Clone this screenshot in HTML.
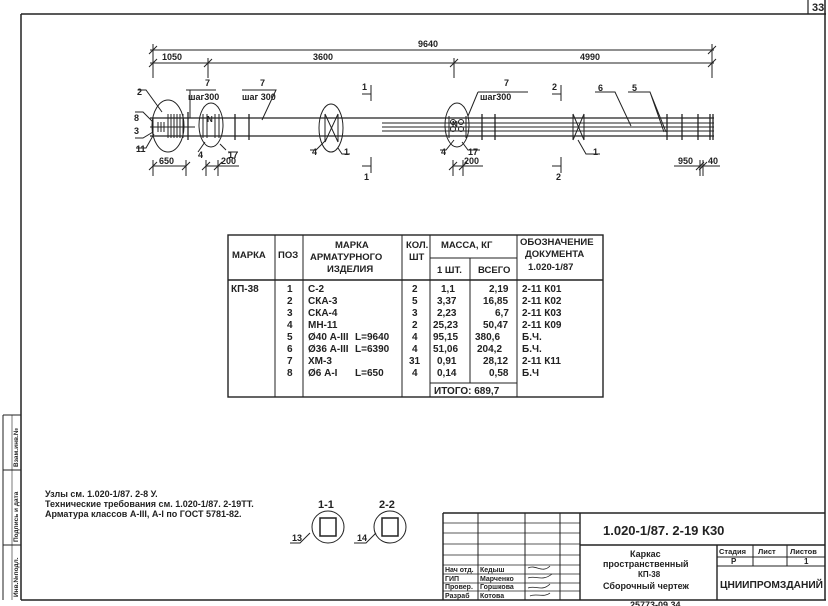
<!DOCTYPE html>
<html><head><meta charset="utf-8"><style>
html,body{margin:0;padding:0;background:#fff}
svg{display:block}
text{font-family:"Liberation Sans Narrow","Liberation Sans","DejaVu Sans Condensed",sans-serif;font-weight:bold;fill:#222}
</style></head><body>
<svg width="828" height="606" viewBox="0 0 828 606" xmlns="http://www.w3.org/2000/svg">
<rect width="828" height="606" fill="#fff"/>
<g stroke="#222" fill="none">
<line x1="21" y1="14" x2="826" y2="14" stroke-width="1.5"/>
<line x1="21" y1="14" x2="21" y2="600" stroke-width="1.5"/>
<line x1="825" y1="0" x2="825" y2="600" stroke-width="1.5"/>
<line x1="21" y1="600" x2="826" y2="600" stroke-width="1.5"/>
<line x1="808" y1="0" x2="808" y2="14" stroke-width="1.2"/>
<line x1="3" y1="415" x2="3" y2="600"/>
<line x1="3" y1="415" x2="21" y2="415"/>
<line x1="3" y1="470" x2="21" y2="470"/>
<line x1="3" y1="545" x2="21" y2="545"/>
<line x1="12" y1="415" x2="12" y2="600" stroke-width="0.6"/>

<line x1="150" y1="50" x2="714" y2="50"/>
<line x1="150" y1="63" x2="714" y2="63"/>
<line x1="153" y1="44" x2="153" y2="78"/>
<line x1="712" y1="44" x2="712" y2="78"/>
<line x1="208" y1="58" x2="208" y2="78"/>
<line x1="454" y1="58" x2="454" y2="78"/>
<path d="M149 54l8-8M149 67l8-8M708 54l8-8M708 67l8-8M204 67l8-8M450 67l8-8"/>

<line x1="150" y1="118" x2="714" y2="118" stroke-width="1.3"/>
<line x1="150" y1="136" x2="714" y2="136" stroke-width="1.3"/>
<line x1="382" y1="123" x2="714" y2="123"/>
<line x1="382" y1="127" x2="714" y2="127"/>
<line x1="382" y1="131" x2="714" y2="131"/>
<g stroke-width="1.3">
<line x1="188" y1="112" x2="188" y2="140"/>
<line x1="235" y1="114" x2="235" y2="140"/>
<line x1="249" y1="114" x2="249" y2="140"/>
<line x1="482" y1="114" x2="482" y2="140"/>
<line x1="495" y1="114" x2="495" y2="140"/>
<line x1="667" y1="114" x2="667" y2="140"/>
<line x1="682" y1="114" x2="682" y2="140"/>
<line x1="698" y1="114" x2="698" y2="140"/>
<line x1="710" y1="114" x2="710" y2="140"/>
<line x1="713" y1="114" x2="713" y2="140"/>
</g>
<line x1="153" y1="118" x2="153" y2="136"/>
<path d="M158 122v10M161 122v10M164 122v10"/>
<path d="M168 114v24M171 114v24M174 114v24M177 114v24M180 114v24M183 114v24"/>
<line x1="150" y1="127" x2="195" y2="127"/>
<ellipse cx="168" cy="126" rx="16" ry="26"/>
<ellipse cx="211" cy="125" rx="12" ry="22"/>
<ellipse cx="331" cy="128" rx="12" ry="24"/>
<ellipse cx="457" cy="125" rx="12" ry="22"/>
<path d="M203 114v24M207 114v24M215 114v24M219 114v24"/>
<path d="M325 114v28M338 114v28M325 114L338 142M338 114L325 142"/>
<path d="M449 116v22M466 116v22"/>
<circle cx="453" cy="122" r="2.5"/><circle cx="461" cy="122" r="2.5"/>
<circle cx="453" cy="129" r="2.5"/><circle cx="461" cy="129" r="2.5"/>
<path d="M573 114v26M584 114v26M573 114L584 140M584 114L573 140"/>
<path d="M138 90h8l16 22M135 112h8l10 10M135 138h8l10-6M136 148h10l8-14"/>
<path d="M186 90h30M190 90v28M242 90h34l-14 30"/>
<path d="M198 152l7-10M226 150l-6-6M228 152h10"/>
<path d="M310 150h6l10-10M338 148l4 6h8"/>
<path d="M440 150h6l8-10M462 142l6 8h12"/>
<path d="M478 92h50M478 92l-10 24"/>
<path d="M595 92h20l16 34M628 92h22l14 40M650 92l16 40"/>
<path d="M578 140l8 14h14"/>
<path d="M371 85v16M362 94h9M371 157v16M362 166h9M561 85v16M552 94h9M561 157v16M552 166h9"/>
<path d="M153 160v16M186 160v16M153 166h33M206 160v16M218 160v16M206 166h33M453 160v16M463 160v16M453 166h30M700 160v16M703 160v16M674 166h46"/>
<path d="M149 170l8-8M182 170l8-8M202 170l8-8M214 170l8-8M449 170l8-8M459 170l8-8M696 170l8-8M699 170l8-8"/>

<rect x="228" y="235" width="375" height="162" stroke-width="1.4"/>
<line x1="228" y1="280" x2="603" y2="280" stroke-width="1.4"/>
<line x1="275" y1="235" x2="275" y2="397"/>
<line x1="303" y1="235" x2="303" y2="397"/>
<line x1="402" y1="235" x2="402" y2="397"/>
<line x1="430" y1="235" x2="430" y2="397"/>
<line x1="470" y1="258" x2="470" y2="383"/>
<line x1="517" y1="235" x2="517" y2="397"/>
<line x1="430" y1="258" x2="517" y2="258"/>
<line x1="430" y1="383" x2="517" y2="383"/>

<circle cx="328" cy="527" r="16"/>
<rect x="320" y="518" width="16" height="18" stroke-width="1.5"/>
<circle cx="390" cy="527" r="16"/>
<rect x="382" y="518" width="16" height="18" stroke-width="1.5"/>
<path d="M290 543h10l10-10M354 543h12l10-10"/>

<line x1="443" y1="513" x2="825" y2="513" stroke-width="1.4"/>
<line x1="443" y1="513" x2="443" y2="600" stroke-width="1.4"/>
<line x1="580" y1="513" x2="580" y2="600" stroke-width="1.4"/>
<line x1="478" y1="513" x2="478" y2="600"/>
<line x1="525" y1="513" x2="525" y2="600"/>
<line x1="560" y1="513" x2="560" y2="600"/>
<g stroke-width="0.8">
<line x1="443" y1="523" x2="580" y2="523"/>
<line x1="443" y1="533" x2="580" y2="533"/>
<line x1="443" y1="544" x2="580" y2="544"/>
<line x1="443" y1="555" x2="580" y2="555"/>
<line x1="443" y1="565" x2="580" y2="565"/>
<line x1="443" y1="574" x2="580" y2="574"/>
<line x1="443" y1="583" x2="580" y2="583"/>
<line x1="443" y1="591" x2="580" y2="591"/>
</g>
<line x1="580" y1="545" x2="825" y2="545" stroke-width="1.4"/>
<line x1="717" y1="545" x2="717" y2="600" stroke-width="1.4"/>
<line x1="753" y1="545" x2="753" y2="566"/>
<line x1="787" y1="545" x2="787" y2="566"/>
<line x1="717" y1="557" x2="825" y2="557"/>
<line x1="717" y1="566" x2="825" y2="566"/>
<path d="M528 568c8-4 14 6 22-2M528 578c8-3 14 4 24-4M528 588c8-3 14 4 22-4M530 596c6-3 14 2 20-3" stroke-width="0.8"/>
</g>

<g font-size="9">
<text x="418" y="47">9640</text>
<text x="162" y="60">1050</text>
<text x="313" y="60">3600</text>
<text x="580" y="60">4990</text>
<text x="205" y="86">7</text>
<text x="188" y="100">шаг300</text>
<text x="260" y="86">7</text>
<text x="242" y="100">шаг 300</text>
<text x="504" y="86">7</text>
<text x="480" y="100">шаг300</text>
<text x="137" y="95">2</text>
<text x="134" y="121">8</text>
<text x="134" y="134">3</text>
<text x="136" y="152">11</text>
<text x="198" y="158">4</text>
<text x="228" y="158">17</text>
<text x="312" y="155">4</text>
<text x="344" y="155">1</text>
<text x="441" y="155">4</text>
<text x="468" y="155">17</text>
<text x="593" y="155">1</text>
<text x="598" y="91">6</text>
<text x="632" y="91">5</text>
<text x="362" y="90">1</text>
<text x="364" y="180">1</text>
<text x="552" y="90">2</text>
<text x="556" y="180">2</text>
<text x="159" y="164">650</text>
<text x="221" y="164">200</text>
<text x="464" y="164">200</text>
<text x="678" y="164">950</text>
<text x="708" y="164">40</text>
<text x="452" y="127" font-size="8">N</text>
<text x="207" y="122" font-size="8">N</text>
</g>
<text x="812" y="11" font-size="11" font-weight="normal">33</text>

<g font-size="9.5">
<text x="232" y="258">МАРКА</text>
<text x="278" y="258">ПОЗ</text>
<text x="335" y="248">МАРКА</text>
<text x="310" y="260">АРМАТУРНОГО</text>
<text x="327" y="272">ИЗДЕЛИЯ</text>
<text x="406" y="248">КОЛ.</text>
<text x="409" y="260">ШТ</text>
<text x="441" y="248">МАССА, КГ</text>
<text x="437" y="273">1 ШТ.</text>
<text x="478" y="273">ВСЕГО</text>
<text x="520" y="245">ОБОЗНАЧЕНИЕ</text>
<text x="525" y="257">ДОКУМЕНТА</text>
<text x="528" y="270">1.020-1/87</text>
</g>
<g font-size="10">
<text x="231" y="292">КП-38</text>
<text x="287" y="292">1</text><text x="287" y="304">2</text><text x="287" y="316">3</text><text x="287" y="328">4</text>
<text x="287" y="340">5</text><text x="287" y="352">6</text><text x="287" y="364">7</text><text x="287" y="376">8</text>
<text x="308" y="292">С-2</text><text x="308" y="304">СКА-3</text><text x="308" y="316">СКА-4</text><text x="308" y="328">МН-11</text>
<text x="308" y="340">Ø40 А-III</text><text x="355" y="340">L=9640</text>
<text x="308" y="352">Ø36 А-III</text><text x="355" y="352">L=6390</text>
<text x="308" y="364">ХМ-3</text><text x="308" y="376">Ø6 А-I</text><text x="355" y="376">L=650</text>
<text x="412" y="292">2</text><text x="412" y="304">5</text><text x="412" y="316">3</text><text x="412" y="328">2</text>
<text x="412" y="340">4</text><text x="412" y="352">4</text><text x="409" y="364">31</text><text x="412" y="376">4</text>
<text x="441" y="292">1,1</text><text x="437" y="304">3,37</text><text x="437" y="316">2,23</text><text x="433" y="328">25,23</text>
<text x="433" y="340">95,15</text><text x="433" y="352">51,06</text><text x="437" y="364">0,91</text><text x="437" y="376">0,14</text>
<text x="489" y="292">2,19</text><text x="483" y="304">16,85</text><text x="495" y="316">6,7</text><text x="483" y="328">50,47</text>
<text x="475" y="340">380,6</text><text x="477" y="352">204,2</text><text x="483" y="364">28,12</text><text x="489" y="376">0,58</text>
<text x="434" y="394">ИТОГО: 689,7</text>
<text x="522" y="292">2-11  К01</text><text x="522" y="304">2-11  К02</text><text x="522" y="316">2-11  К03</text><text x="522" y="328">2-11  К09</text>
<text x="522" y="340">Б.Ч.</text><text x="522" y="352">Б.Ч.</text><text x="522" y="364">2-11  К11</text><text x="522" y="376">Б.Ч</text>
</g>

<g font-size="9">
<text x="45" y="497">Узлы см. 1.020-1/87. 2-8 У.</text>
<text x="45" y="507">Технические требования см. 1.020-1/87. 2-19ТТ.</text>
<text x="45" y="517">Арматура классов А-III, А-I по ГОСТ 5781-82.</text>
<text x="318" y="508" font-size="11">1-1</text>
<text x="379" y="508" font-size="11">2-2</text>
<text x="292" y="541">13</text>
<text x="357" y="541">14</text>
</g>

<text x="603" y="535" font-size="13" font-weight="normal">1.020-1/87. 2-19 К30</text>
<g font-size="8">
<text x="630" y="557" font-size="9">Каркас</text>
<text x="603" y="567" font-size="9">пространственный</text>
<text x="638" y="577">КП-38</text>
<text x="603" y="589" font-size="9">Сборочный чертеж</text>
<text x="719" y="554" font-size="7.5">Стадия</text>
<text x="758" y="554" font-size="7.5">Лист</text>
<text x="790" y="554" font-size="7.5">Листов</text>
<text x="731" y="564">Р</text>
<text x="804" y="564">1</text>
<text x="720" y="588" font-size="10" font-weight="normal" textLength="103" lengthAdjust="spacingAndGlyphs">ЦНИИПРОМЗДАНИЙ</text>
<text x="445" y="572" font-size="7">Нач отд.</text><text x="480" y="572" font-size="7">Кедыш</text>
<text x="445" y="581" font-size="7">ГИП</text><text x="480" y="581" font-size="7">Марченко</text>
<text x="445" y="589" font-size="7">Провер.</text><text x="480" y="589" font-size="7">Горшкова</text>
<text x="445" y="598" font-size="7">Разраб</text><text x="480" y="598" font-size="7">Котова</text>
</g>
<text x="630" y="608" font-size="9" font-weight="normal">25773-09   34</text>
<g font-size="6.5">
<text transform="translate(18,597) rotate(-90)">Инв.№подл.</text>
<text transform="translate(18,542) rotate(-90)">Подпись и дата</text>
<text transform="translate(18,467) rotate(-90)">Взам.инв.№</text>
</g>
</svg>
</body></html>
